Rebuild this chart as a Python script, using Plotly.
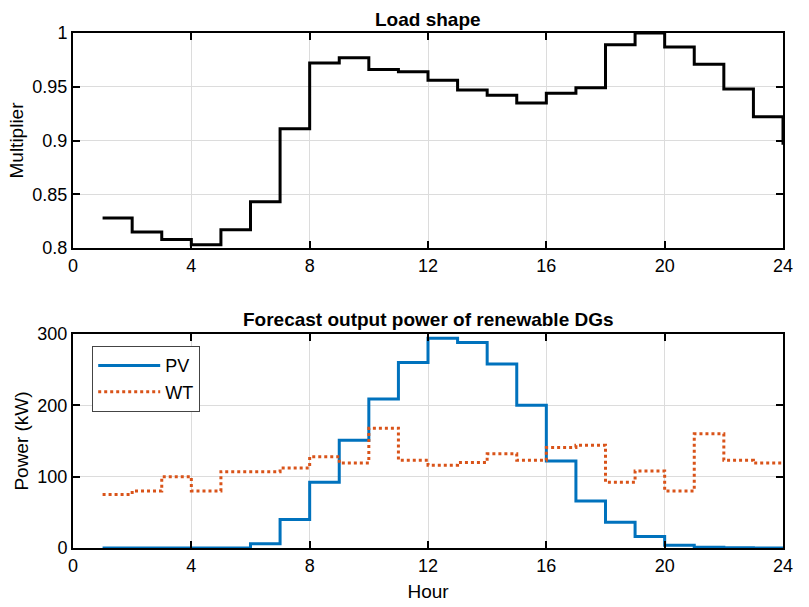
import plotly.graph_objects as go

hours = list(range(1, 25))
load_mult = [0.828, 0.815, 0.808, 0.803, 0.817, 0.843, 0.911, 0.972, 0.977, 0.966,
             0.964, 0.956, 0.947, 0.942, 0.935, 0.944, 0.949, 0.989, 1.000, 0.987,
             0.971, 0.948, 0.922, 0.896]
pv_power = [0, 0, 0, 0, 0, 6, 40, 92, 151, 209, 260, 294, 288, 258, 200, 122,
            66, 36, 16, 4, 1, 0.5, 0, 0]
wt_power = [75, 80, 100, 80, 107, 107, 112, 128, 119, 168, 123, 116, 120, 132,
            123, 141, 144, 92, 108, 80, 160, 123, 119, 119]
x_ticks = [0, 4, 8, 12, 16, 20, 24]
load_ticks = [0.8, 0.85, 0.9, 0.95, 1]
load_tick_text = ["0.8", "0.85", "0.9", "0.95", "1"]
power_ticks = [0, 100, 200, 300]

W, H = 809, 607
L, R, T, B = 73, 26, 33, 59
PW, PH = W - L - R, H - T - B
FONT = "Liberation Sans, Arial, Helvetica, sans-serif"
TICK = 18
LAB = 19


def py(px):
    """pixel y (from top) -> plot-area fraction"""
    return (H - B - px) / PH


fig = go.Figure()
fig.add_trace(go.Scatter(x=hours, y=load_mult, mode="lines", line=dict(shape="hv", color="black", width=3),
                         showlegend=False, xaxis="x", yaxis="y"))
fig.add_trace(go.Scatter(x=hours, y=pv_power, mode="lines", name="PV",
                         line=dict(shape="hv", color="#0072BD", width=3), xaxis="x2", yaxis="y2"))
fig.add_trace(go.Scatter(x=hours, y=wt_power, mode="lines", name="WT",
                         line=dict(shape="hv", color="#D95319", width=3, dash="dot"), xaxis="x2", yaxis="y2"))

ax_common = dict(showline=True, linecolor="black", linewidth=2, mirror="ticks", ticks="inside",
                 ticklen=7, tickwidth=2, tickcolor="black", showgrid=True, gridcolor="#dcdcdc",
                 gridwidth=1, zeroline=False,
                 tickfont=dict(family=FONT, size=TICK, color="black"))

fig.update_layout(
    width=W, height=H, margin=dict(l=L, r=R, t=T, b=B, autoexpand=False),
    plot_bgcolor="white", paper_bgcolor="white",
    font=dict(family=FONT, size=TICK, color="black"),
    xaxis=dict(domain=[0, 1], range=[0, 24], tickvals=x_ticks, anchor="y", automargin=False, **ax_common),
    yaxis=dict(domain=[py(248), 1], range=[0.8, 1], tickvals=load_ticks,
               ticktext=load_tick_text, anchor="x", automargin=True,
               title=dict(text="Multiplier", font=dict(family=FONT, size=LAB), standoff=4), **ax_common),
    xaxis2=dict(domain=[0, 1], range=[0, 24], tickvals=x_ticks, anchor="y2", automargin=False,
                title=dict(text="Hour", font=dict(family=FONT, size=LAB), standoff=10), **ax_common),
    yaxis2=dict(domain=[0, py(334)], range=[0, 300], tickvals=power_ticks, anchor="x2", automargin=True,
                title=dict(text="Power (kW)", font=dict(family=FONT, size=LAB), standoff=4), **ax_common),
    legend=dict(x=(92 - L) / PW, y=py(346), xanchor="left", yanchor="top", bgcolor="white",
                bordercolor="#444444", borderwidth=1.2, font=dict(family=FONT, size=TICK),
                tracegroupgap=0, itemwidth=62),
    annotations=[
        dict(text="<b>Load shape</b>", x=0.5, y=py(20), xref="paper", yref="paper", yanchor="middle",
             showarrow=False, font=dict(family=FONT, size=LAB)),
        dict(text="<b>Forecast output power of renewable DGs</b>", x=0.5, y=py(320), yanchor="middle",
             xref="paper", yref="paper", showarrow=False, font=dict(family=FONT, size=LAB)),
    ],
)

fig.write_html("out.html")
